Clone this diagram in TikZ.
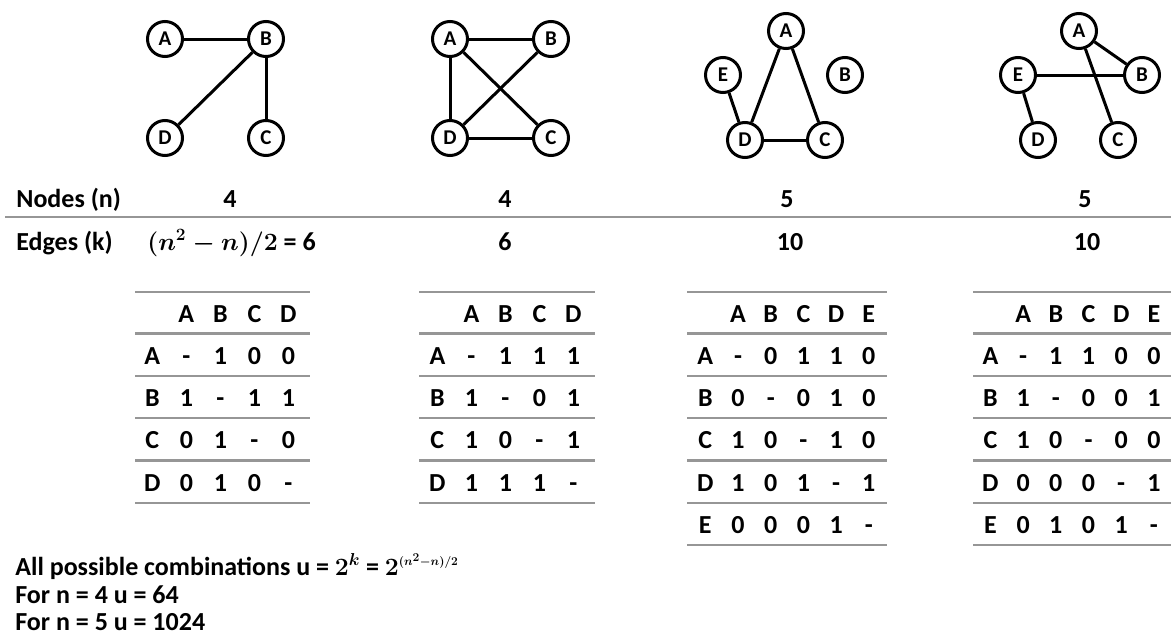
\documentclass[tikz,border=0pt]{standalone}
\usepackage{fontspec}
\setmainfont{Carlito}
\usepackage{tikz}
\tikzset{every picture/.style={line width=0.75pt}}
\tikzset{
  vtx/.style={draw, circle, line width=3pt, minimum size=35pt, inner sep=0pt, font=\fontsize{21}{21}\selectfont\bfseries},
  edg/.style={line width=3pt},
  txt/.style={inner sep=0pt, font=\fontsize{26}{28}\selectfont\bfseries\boldmath},
  rulegray/.style={draw={rgb, 255:red, 150; green, 150; blue, 150}, line width=2.2pt},
}
\newcommand{\cf}[1]{\makebox[34pt]{#1}}
\newcommand{\cv}[1]{\makebox[32.7pt]{#1}}

\begin{document}
\begin{tikzpicture}[x=1pt,y=1pt,yscale=-1,xscale=1]
\useasboundingbox (0,0) rectangle (1171,637);

%Graph 1
\node [vtx] (ga1) at (165,39) {A};
\node [vtx] (gb1) at (266,39) {B};
\node [vtx] (gd1) at (165,138) {D};
\node [vtx] (gc1) at (266,138) {C};
\draw [edg] (ga1) -- (gb1);
\draw [edg] (gb1) -- (gd1);
\draw [edg] (gb1) -- (gc1);

%Graph 2
\node [vtx] (ga2) at (450,39) {A};
\node [vtx] (gb2) at (551,39) {B};
\node [vtx] (gd2) at (450,138) {D};
\node [vtx] (gc2) at (551,138) {C};
\draw [edg] (ga2) -- (gb2);
\draw [edg] (ga2) -- (gd2);
\draw [edg] (ga2) -- (gc2);
\draw [edg] (gb2) -- (gd2);
\draw [edg] (gd2) -- (gc2);

%Graph 3
\node [vtx] (ga3) at (786,31) {A};
\node [vtx] (ge3) at (723,75) {E};
\node [vtx] (gb3) at (845,75) {B};
\node [vtx] (gd3) at (745,140) {D};
\node [vtx] (gc3) at (825,140) {C};
\draw [edg] (ga3) -- (gd3);
\draw [edg] (ga3) -- (gc3);
\draw [edg] (gd3) -- (gc3);
\draw [edg] (ge3) -- (gd3);

%Graph 4
\node [vtx] (ga4) at (1079,31) {A};
\node [vtx] (ge4) at (1018,75) {E};
\node [vtx] (gb4) at (1142,75) {B};
\node [vtx] (gd4) at (1038,140) {D};
\node [vtx] (gc4) at (1118,140) {C};
\draw [edg] (ga4) -- (gb4);
\draw [edg] (ga4) -- (gc4);
\draw [edg] (ge4) -- (gb4);
\draw [edg] (ge4) -- (gd4);

%Straight Lines
\draw [rulegray] (5,217) -- (1171,217);

% Text Node
\node [txt, anchor=base west] (nodes) at (16,207) {Nodes (n)};
\node [txt, anchor=base] (n1) at (230,207) {4};
\node [txt, anchor=base] (n2) at (505,207) {4};
\node [txt, anchor=base] (n3) at (787,207) {5};
\node [txt, anchor=base] (n4) at (1085,207) {5};
% Text Node
\node [txt, anchor=base west] (edges) at (16,250) {Edges (k)};
\node [txt, anchor=base west] (k1) at (147,250) {$(n^2-n)/2$ = 6};
\node [txt, anchor=base] (k2) at (505,250) {6};
\node [txt, anchor=base] (k3) at (790,250) {10};
\node [txt, anchor=base] (k4) at (1087,250) {10};

%Table 1
\foreach \y in {292,333.5,376,418,460.5,503} \draw [rulegray] (135,\y) -- (310,\y);
\node [txt, anchor=base west] (t1h) at (135,322) {\cf{}\cf{A}\cf{B}\cf{C}\cf{D}};
\node [txt, anchor=base west] (t1a) at (135,364) {\cf{A}\cf{-}\cf{1}\cf{0}\cf{0}};
\node [txt, anchor=base west] (t1b) at (135,406) {\cf{B}\cf{1}\cf{-}\cf{1}\cf{1}};
\node [txt, anchor=base west] (t1c) at (135,448.5) {\cf{C}\cf{0}\cf{1}\cf{-}\cf{0}};
\node [txt, anchor=base west] (t1d) at (135,491) {\cf{D}\cf{0}\cf{1}\cf{0}\cf{-}};

%Table 2
\foreach \y in {292,333.5,376,418,460.5,503} \draw [rulegray] (419,\y) -- (595,\y);
\node [txt, anchor=base west] (t2h) at (420,322) {\cf{}\cf{A}\cf{B}\cf{C}\cf{D}};
\node [txt, anchor=base west] (t2a) at (420,364) {\cf{A}\cf{-}\cf{1}\cf{1}\cf{1}};
\node [txt, anchor=base west] (t2b) at (420,406) {\cf{B}\cf{1}\cf{-}\cf{0}\cf{1}};
\node [txt, anchor=base west] (t2c) at (420,448.5) {\cf{C}\cf{1}\cf{0}\cf{-}\cf{1}};
\node [txt, anchor=base west] (t2d) at (420,491) {\cf{D}\cf{1}\cf{1}\cf{1}\cf{-}};

%Table 3
\foreach \y in {292,333.5,376,418,460.5,503,545} \draw [rulegray] (687,\y) -- (887,\y);
\node [txt, anchor=base west] (t3h) at (688.6,322) {\cv{}\cv{A}\cv{B}\cv{C}\cv{D}\cv{E}};
\node [txt, anchor=base west] (t3a) at (688.6,364) {\cv{A}\cv{-}\cv{0}\cv{1}\cv{1}\cv{0}};
\node [txt, anchor=base west] (t3b) at (688.6,406) {\cv{B}\cv{0}\cv{-}\cv{0}\cv{1}\cv{0}};
\node [txt, anchor=base west] (t3c) at (688.6,448.5) {\cv{C}\cv{1}\cv{0}\cv{-}\cv{1}\cv{0}};
\node [txt, anchor=base west] (t3d) at (688.6,491) {\cv{D}\cv{1}\cv{0}\cv{1}\cv{-}\cv{1}};
\node [txt, anchor=base west] (t3e) at (688.6,533) {\cv{E}\cv{0}\cv{0}\cv{0}\cv{1}\cv{-}};

%Table 4
\foreach \y in {292,333.5,376,418,460.5,503,545} \draw [rulegray] (973,\y) -- (1171,\y);
\node [txt, anchor=base west] (t4h) at (973.7,322) {\cv{}\cv{A}\cv{B}\cv{C}\cv{D}\cv{E}};
\node [txt, anchor=base west] (t4a) at (973.7,364) {\cv{A}\cv{-}\cv{1}\cv{1}\cv{0}\cv{0}};
\node [txt, anchor=base west] (t4b) at (973.7,406) {\cv{B}\cv{1}\cv{-}\cv{0}\cv{0}\cv{1}};
\node [txt, anchor=base west] (t4c) at (973.7,448.5) {\cv{C}\cv{1}\cv{0}\cv{-}\cv{0}\cv{0}};
\node [txt, anchor=base west] (t4d) at (973.7,491) {\cv{D}\cv{0}\cv{0}\cv{0}\cv{-}\cv{1}};
\node [txt, anchor=base west] (t4e) at (973.7,533) {\cv{E}\cv{0}\cv{1}\cv{0}\cv{1}\cv{-}};

% Text Node
\node [txt, anchor=base west] (allu) at (15,575) {All possible combinations u = $2^k$ = $2^{\scriptscriptstyle(n^2-n)/2}$};
\node [txt, anchor=base west] (for4) at (15,603) {For n = 4 u = 64};
\node [txt, anchor=base west] (for5) at (15,630) {For n = 5 u = 1024};

\end{tikzpicture}
\end{document}
